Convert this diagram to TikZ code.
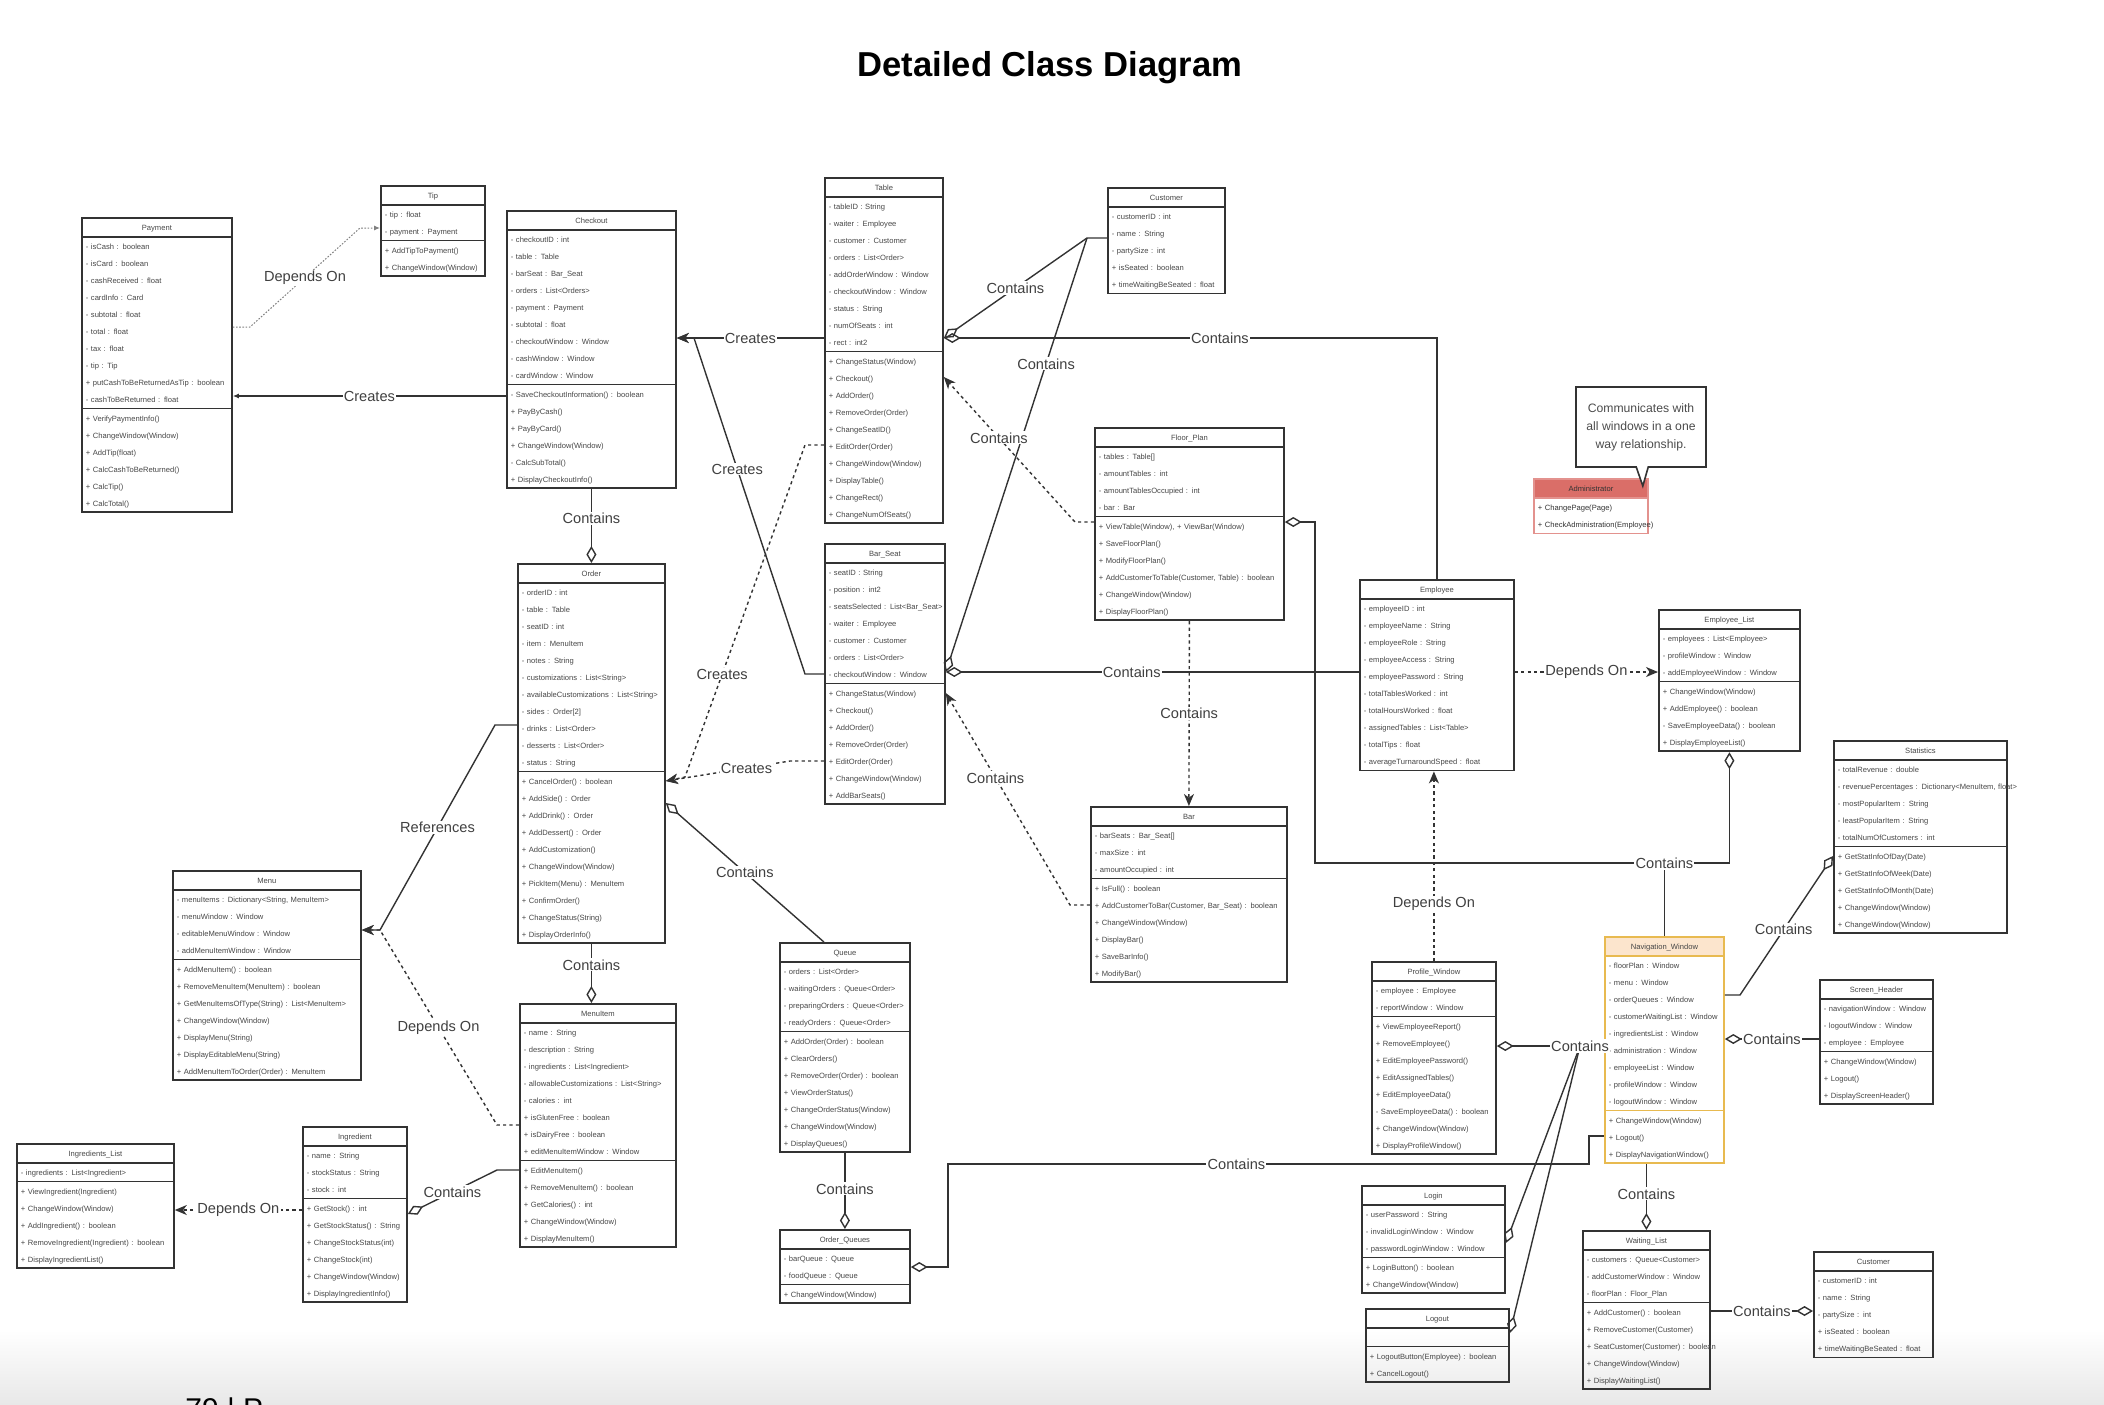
\documentclass[tikz,border=0pt]{standalone}
\usepackage{fontspec}
\setmainfont{Liberation Sans}
\usetikzlibrary{arrows.meta,shapes.multipart,shapes.callouts}

\definecolor{linegray}{RGB}{51,51,51}
\definecolor{txtgray}{RGB}{70,70,70}
\definecolor{adminred}{RGB}{218,110,104}
\definecolor{navfill}{RGB}{252,229,205}
\definecolor{navline}{RGB}{232,186,80}

\newcommand\rw[1]{\mbox{\strut#1}\par}
\newcommand\ct[1]{\makebox[\linewidth]{\strut#1}\par}

\begin{document}
\begin{tikzpicture}
[x=0.5pt,y=-0.5pt,%
  cls/.style={rectangle split,rectangle split parts=3,draw=linegray,line width=0.9pt,
    anchor=north west,inner xsep=2pt,inner ysep=0pt,text=txtgray,
    font=\fontsize{3.8}{8.5}\selectfont},%
  cls2/.style={cls,rectangle split parts=2},%
  lbl/.style={fill=white,inner sep=0.6pt,text=black!75,font=\fontsize{7.3}{8}\selectfont},%
  con/.style={draw=linegray,line width=0.7pt},%
  agg/.style={con,{Diamond[open,length=8.5pt,width=5pt]}-},%
  crt/.style={con,-{Stealth[length=6pt,width=5pt,inset=1.8pt]}},%
  crs/.style={con,-{Latex[length=3pt,width=2.5pt]}},%
  dcrt/.style={crt,dash pattern=on 1.6pt off 1.6pt},%
  dep/.style={draw=gray,line width=0.5pt,dash pattern=on 0.8pt off 0.8pt,-{Latex[length=3pt,width=2.5pt]}}]
\useasboundingbox (0,0) rectangle (2104,1404);
\clip (0,0) rectangle (2104,1404);
\shade[top color=white,bottom color=black!9] (0,1330) rectangle (2104,1404);
\node[font=\fontsize{17.3}{20}\selectfont\bfseries] (title) at (1050,68) {Detailed Class Diagram};
\node[anchor=north west,inner sep=0pt,font=\fontsize{15}{18}\selectfont] (pageno) at (185,1397) {79 | P};

% classes
\node[cls,text width=71pt] (payment) at (81,217) {\ct{Payment}
  \nodepart{second}\rw{- isCash : boolean}\rw{- isCard : boolean}\rw{- cashReceived : float}\rw{- cardInfo : Card}\rw{- subtotal : float}\rw{- total : float}\rw{- tax : float}\rw{- tip : Tip}\rw{+ putCashToBeReturnedAsTip : boolean}\rw{- cashToBeReturned : float}
  \nodepart{third}\rw{+ VerifyPaymentInfo()}\rw{+ ChangeWindow(Window)}\rw{+ AddTip(float)}\rw{+ CalcCashToBeReturned()}\rw{+ CalcTip()}\rw{+ CalcTotal()}};
\node[cls,text width=48pt] (tip) at (380,185) {\ct{Tip}
  \nodepart{second}\rw{- tip : float}\rw{- payment : Payment}
  \nodepart{third}\rw{+ AddTipToPayment()}\rw{+ ChangeWindow(Window)}};
\node[cls,text width=80.5pt] (checkout) at (506,210) {\ct{Checkout}
  \nodepart{second}\rw{- checkoutID : int}\rw{- table : Table}\rw{- barSeat : Bar\_Seat}\rw{- orders : List<Orders>}\rw{- payment : Payment}\rw{- subtotal : float}\rw{- checkoutWindow : Window}\rw{- cashWindow : Window}\rw{- cardWindow : Window}
  \nodepart{third}\rw{- SaveCheckoutInformation() : boolean}\rw{+ PayByCash()}\rw{+ PayByCard()}\rw{+ ChangeWindow(Window)}\rw{- CalcSubTotal()}\rw{+ DisplayCheckoutInfo()}};
\node[cls,text width=55pt] (table) at (824,177) {\ct{Table}
  \nodepart{second}\rw{- tableID : String}\rw{- waiter : Employee}\rw{- customer : Customer}\rw{- orders : List<Order>}\rw{- addOrderWindow : Window}\rw{- checkoutWindow : Window}\rw{- status : String}\rw{- numOfSeats : int}\rw{- rect : int2}
  \nodepart{third}\rw{+ ChangeStatus(Window)}\rw{+ Checkout()}\rw{+ AddOrder()}\rw{+ RemoveOrder(Order)}\rw{+ ChangeSeatID()}\rw{+ EditOrder(Order)}\rw{+ ChangeWindow(Window)}\rw{+ DisplayTable()}\rw{+ ChangeRect()}\rw{+ ChangeNumOfSeats()}};
\node[cls2,text width=54.5pt] (customer) at (1107,187) {\ct{Customer}
  \nodepart{second}\rw{- customerID : int}\rw{- name : String}\rw{- partySize : int}\rw{+ isSeated : boolean}\rw{+ timeWaitingBeSeated : float}};
\node[cls,text width=56pt] (barseat) at (824,543) {\ct{Bar\_Seat}
  \nodepart{second}\rw{- seatID : String}\rw{- position : int2}\rw{- seatsSelected : List<Bar\_Seat>}\rw{- waiter : Employee}\rw{- customer : Customer}\rw{- orders : List<Order>}\rw{- checkoutWindow : Window}
  \nodepart{third}\rw{+ ChangeStatus(Window)}\rw{+ Checkout()}\rw{+ AddOrder()}\rw{+ RemoveOrder(Order)}\rw{+ EditOrder(Order)}\rw{+ ChangeWindow(Window)}\rw{+ AddBarSeats()}};
\node[cls,text width=90.5pt] (floorplan) at (1094,427) {\ct{Floor\_Plan}
  \nodepart{second}\rw{- tables : Table[]}\rw{- amountTables : int}\rw{- amountTablesOccupied : int}\rw{- bar : Bar}
  \nodepart{third}\rw{+ ViewTable(Window), + ViewBar(Window)}\rw{+ SaveFloorPlan()}\rw{+ ModifyFloorPlan()}\rw{+ AddCustomerToTable(Customer, Table) : boolean}\rw{+ ChangeWindow(Window)}\rw{+ DisplayFloorPlan()}};
\node[cls,text width=69.5pt] (order) at (517,563) {\ct{Order}
  \nodepart{second}\rw{- orderID : int}\rw{- table : Table}\rw{- seatID : int}\rw{- item : MenuItem}\rw{- notes : String}\rw{- customizations : List<String>}\rw{- availableCustomizations : List<String>}\rw{- sides : Order[2]}\rw{- drinks : List<Order>}\rw{- desserts : List<Order>}\rw{- status : String}
  \nodepart{third}\rw{+ CancelOrder() : boolean}\rw{+ AddSide() : Order}\rw{+ AddDrink() : Order}\rw{+ AddDessert() : Order}\rw{+ AddCustomization()}\rw{+ ChangeWindow(Window)}\rw{+ PickItem(Menu) : MenuItem}\rw{+ ConfirmOrder()}\rw{+ ChangeStatus(String)}\rw{+ DisplayOrderInfo()}};
\node[cls2,text width=73pt] (employee) at (1359,579) {\ct{Employee}
  \nodepart{second}\rw{- employeeID : int}\rw{- employeeName : String}\rw{- employeeRole : String}\rw{- employeeAccess : String}\rw{- employeePassword : String}\rw{- totalTablesWorked : int}\rw{- totalHoursWorked : float}\rw{- assignedTables : List<Table>}\rw{- totalTips : float}\rw{- averageTurnaroundSpeed : float}};
\node[cls,text width=66.5pt] (emplist) at (1658,609) {\ct{Employee\_List}
  \nodepart{second}\rw{- employees : List<Employee>}\rw{- profileWindow : Window}\rw{- addEmployeeWindow : Window}
  \nodepart{third}\rw{+ ChangeWindow(Window)}\rw{+ AddEmployee() : boolean}\rw{- SaveEmployeeData() : boolean}\rw{+ DisplayEmployeeList()}};
\node[cls2,text width=53pt,draw=adminred!75,rectangle split part fill={adminred,white},text=black!80] (admin) at (1533,478) {\ct{Administrator}
  \nodepart{second}\rw{+ ChangePage(Page)}\rw{+ CheckAdministration(Employee)}};
\node[cls,text width=94pt] (bar) at (1090,806) {\ct{Bar}
  \nodepart{second}\rw{- barSeats : Bar\_Seat[]}\rw{- maxSize : int}\rw{- amountOccupied : int}
  \nodepart{third}\rw{+ IsFull() : boolean}\rw{+ AddCustomerToBar(Customer, Bar\_Seat) : boolean}\rw{+ ChangeWindow(Window)}\rw{+ DisplayBar()}\rw{+ SaveBarInfo()}\rw{+ ModifyBar()}};
\node[cls,text width=82.5pt] (statistics) at (1833,740) {\ct{Statistics}
  \nodepart{second}\rw{- totalRevenue : double}\rw{- revenuePercentages : Dictionary<MenuItem, float>}\rw{- mostPopularItem : String}\rw{- leastPopularItem : String}\rw{- totalNumOfCustomers : int}
  \nodepart{third}\rw{+ GetStatInfoOfDay(Date)}\rw{+ GetStatInfoOfWeek(Date)}\rw{+ GetStatInfoOfMonth(Date)}\rw{+ ChangeWindow(Window)}\rw{+ ChangeWindow(Window)}};
\node[cls,text width=90pt] (menu) at (172,870) {\ct{Menu}
  \nodepart{second}\rw{- menuItems : Dictionary<String, MenuItem>}\rw{- menuWindow : Window}\rw{- editableMenuWindow : Window}\rw{- addMenuItemWindow : Window}
  \nodepart{third}\rw{+ AddMenuItem() : boolean}\rw{+ RemoveMenuItem(MenuItem) : boolean}\rw{+ GetMenuItemsOfType(String) : List<MenuItem>}\rw{+ ChangeWindow(Window)}\rw{+ DisplayMenu(String)}\rw{+ DisplayEditableMenu(String)}\rw{+ AddMenuItemToOrder(Order) : MenuItem}};
\node[cls,text width=61pt] (queue) at (779,942) {\ct{Queue}
  \nodepart{second}\rw{- orders : List<Order>}\rw{- waitingOrders : Queue<Order>}\rw{- preparingOrders : Queue<Order>}\rw{- readyOrders : Queue<Order>}
  \nodepart{third}\rw{+ AddOrder(Order) : boolean}\rw{+ ClearOrders()}\rw{+ RemoveOrder(Order) : boolean}\rw{+ ViewOrderStatus()}\rw{+ ChangeOrderStatus(Window)}\rw{+ ChangeWindow(Window)}\rw{+ DisplayQueues()}};
\node[cls,text width=74pt] (menuitem) at (519,1003) {\ct{MenuItem}
  \nodepart{second}\rw{- name : String}\rw{- description : String}\rw{- ingredients : List<Ingredient>}\rw{- allowableCustomizations : List<String>}\rw{- calories : int}\rw{+ isGlutenFree : boolean}\rw{+ isDairyFree : boolean}\rw{+ editMenuItemWindow : Window}
  \nodepart{third}\rw{+ EditMenuItem()}\rw{+ RemoveMenuItem() : boolean}\rw{+ GetCalories() : int}\rw{+ ChangeWindow(Window)}\rw{+ DisplayMenuItem()}};
\node[cls,text width=58pt] (profile) at (1371,961) {\ct{Profile\_Window}
  \nodepart{second}\rw{- employee : Employee}\rw{- reportWindow : Window}
  \nodepart{third}\rw{+ ViewEmployeeReport()}\rw{+ RemoveEmployee()}\rw{+ EditEmployeePassword()}\rw{+ EditAssignedTables()}\rw{+ EditEmployeeData()}\rw{- SaveEmployeeData() : boolean}\rw{+ ChangeWindow(Window)}\rw{+ DisplayProfileWindow()}};
\node[cls,text width=55.5pt,draw=navline,rectangle split part fill={navfill,white,white}] (nav) at (1604,936) {\ct{Navigation\_Window}
  \nodepart{second}\rw{- floorPlan : Window}\rw{- menu : Window}\rw{- orderQueues : Window}\rw{- customerWaitingList : Window}\rw{- ingredientsList : Window}\rw{- administration : Window}\rw{- employeeList : Window}\rw{- profileWindow : Window}\rw{- logoutWindow : Window}
  \nodepart{third}\rw{+ ChangeWindow(Window)}\rw{+ Logout()}\rw{+ DisplayNavigationWindow()}};
\node[cls,text width=52.5pt] (screenheader) at (1819,979) {\ct{Screen\_Header}
  \nodepart{second}\rw{- navigationWindow : Window}\rw{- logoutWindow : Window}\rw{- employee : Employee}
  \nodepart{third}\rw{+ ChangeWindow(Window)}\rw{+ Logout()}\rw{+ DisplayScreenHeader()}};
\node[cls,text width=74.5pt] (ingrlist) at (16,1143) {\ct{Ingredients\_List}
  \nodepart{second}\rw{- ingredients : List<Ingredient>}
  \nodepart{third}\rw{+ ViewIngredient(Ingredient)}\rw{+ ChangeWindow(Window)}\rw{+ AddIngredient() : boolean}\rw{+ RemoveIngredient(Ingredient) : boolean}\rw{+ DisplayIngredientList()}};
\node[cls,text width=48pt] (ingredient) at (302,1126) {\ct{Ingredient}
  \nodepart{second}\rw{- name : String}\rw{- stockStatus : String}\rw{- stock : int}
  \nodepart{third}\rw{+ GetStock() : int}\rw{+ GetStockStatus() : String}\rw{+ ChangeStockStatus(int)}\rw{+ ChangeStock(int)}\rw{+ ChangeWindow(Window)}\rw{+ DisplayIngredientInfo()}};
\node[cls,text width=61pt] (orderqueues) at (779,1229) {\ct{Order\_Queues}
  \nodepart{second}\rw{- barQueue : Queue}\rw{- foodQueue : Queue}
  \nodepart{third}\rw{+ ChangeWindow(Window)}};
\node[cls,text width=67.5pt] (login) at (1361,1185) {\ct{Login}
  \nodepart{second}\rw{- userPassword : String}\rw{- invalidLoginWindow : Window}\rw{- passwordLoginWindow : Window}
  \nodepart{third}\rw{+ LoginButton() : boolean}\rw{+ ChangeWindow(Window)}};
\node[cls,text width=67.5pt] (logout) at (1365,1308) {\ct{Logout}
  \nodepart{second}\rw{}
  \nodepart{third}\rw{+ LogoutButton(Employee) : boolean}\rw{+ CancelLogout()}};
\node[cls,text width=59.5pt] (waitlist) at (1582,1230) {\ct{Waiting\_List}
  \nodepart{second}\rw{- customers : Queue<Customer>}\rw{- addCustomerWindow : Window}\rw{- floorPlan : Floor\_Plan}
  \nodepart{third}\rw{+ AddCustomer() : boolean}\rw{+ RemoveCustomer(Customer)}\rw{+ SeatCustomer(Customer) : boolean}\rw{+ ChangeWindow(Window)}\rw{+ DisplayWaitingList()}};
\node[cls2,text width=55.5pt] (customer2) at (1813,1251) {\ct{Customer}
  \nodepart{second}\rw{- customerID : int}\rw{- name : String}\rw{- partySize : int}\rw{+ isSeated : boolean}\rw{+ timeWaitingBeSeated : float}};

\node[rectangle callout,draw=linegray,line width=0.8pt,fill=white,align=center,
  minimum width=65pt,minimum height=40pt,text=black!70,font=\fontsize{6.1}{9}\selectfont,
  callout pointer width=6pt,callout absolute pointer={([xshift=-3pt,yshift=-4pt]admin.north east)}]
  (note) at (1641,427) {Communicates with\\all windows in a one\\way relationship.};

% connectors
\draw[dep] (payment.east |- 0,327) -- (250,327) -- node[lbl]{Depends On} (360,228) -- (tip.west |- 0,228);
\draw[crs] (checkout.west |- 0,396) -- node[lbl]{Creates} (payment.east |- 0,396);
\draw[crt] (table.west |- 0,338) -- node[lbl]{Creates} (checkout.east |- 0,338);
\draw[crt] (barseat.west |- 0,674) -- (805,674) -- node[lbl,pos=0.61]{Creates} (694,338) -- (checkout.east |- 0,338);
\draw[dcrt] (table.west |- 0,445) -- (805,445) -- node[lbl,pos=0.69]{Creates} (685,777) -- (order.east |- 0,781);
\draw[dcrt] (barseat.west |- 0,761) -- (790,761) -- node[lbl,pos=0.35]{Creates} (order.east |- 0,781);

\draw[agg] (table.east |- 0,338) -- node[lbl]{Contains} (1087,238) -- (customer.west |- 0,238);
\draw[agg] (table.east |- 0,338) -| node[lbl,pos=0.28]{Contains} (employee.north);
\draw[agg] (barseat.east |- 0,672) -- node[lbl,pos=0.71]{Contains} (1087,238);
\draw[agg] (barseat.east |- 0,672) -- node[lbl,pos=0.45]{Contains} (employee.west |- 0,672);

\draw[dcrt] (floorplan.west |- 0,522) -- (1075,522) -- node[lbl,pos=0.58]{Contains} (table.east |- 0,377);
\draw[dcrt] (floorplan.south) -- node[lbl]{Contains} (bar.north);
\draw[dcrt] (bar.west |- 0,905) -- (1070,905) -- node[lbl,pos=0.6]{Contains} (barseat.east |- 0,693);
\draw[agg] (floorplan.east |- 0,522) -- (1315,522) |- (nav.north |- 0,863) -- (nav.north);
\draw[agg] (emplist.south) |- (nav.north |- 0,863) node[lbl]{Contains};

\draw[dcrt] (employee.east |- 0,672) -- node[lbl]{Depends On} (emplist.west |- 0,672);
\draw[dcrt] (profile.north) -- node[lbl,pos=0.3]{Depends On} (profile.north |- employee.south);

\draw[agg] (order.north) -- node[lbl,pos=0.6]{Contains} (checkout.south);
\draw[crt] (order.west |- 0,725) -- (495,725) -- node[lbl]{References} (380,930) -- (menu.east |- 0,930);
\draw[dcrt] (menuitem.west |- 0,1125) -- (497,1125) -- node[lbl]{Depends On} (380,930) -- (menu.east |- 0,930);
\draw[agg] (order.south |- menuitem.north) -- node[lbl,pos=0.65]{Contains} (order.south);
\draw[agg] (order.east |- 0,803) -- node[lbl]{Contains} ([xshift=-10.5pt]queue.north);
\draw[agg] (orderqueues.north) -- node[lbl,pos=0.53]{Contains} (queue.south);
\draw[agg] (orderqueues.east |- 0,1267) -- (948,1267) |- node[lbl,pos=0.725]{Contains} (1589,1164) |- (nav.west |- 0,1136);

\draw[agg] (ingredient.east |- 0,1214) -- node[lbl]{Contains} (497,1170) -- (menuitem.west |- 0,1170);
\draw[dcrt] (ingredient.west |- 0,1210) -- node[lbl]{Depends On} (ingrlist.east |- 0,1210);

\draw[agg] (statistics.west |- 0,856) -- node[lbl,pos=0.53]{Contains} (1740,995) -- (nav.east |- 0,995);
\draw[agg] (nav.east |- 0,1039) -- node[lbl]{Contains} (screenheader.west |- 0,1039);
\draw[agg] (waitlist.north) -- node[lbl,pos=0.55]{Contains} (waitlist.north |- nav.south);
\draw[agg] (customer2.west |- 0,1311) -- node[lbl]{Contains} (waitlist.east |- 0,1311);
\coordinate (navjoin) at (1580,1046);
\draw[agg] (profile.east |- 0,1046) -- (nav.west |- 0,1046);
\draw[agg] (login.east |- 0,1243) -- (navjoin);
\draw[agg] (logout.east |- 0,1333) -- (navjoin);
\node[lbl] (navlbl) at (navjoin) {Contains};
\end{tikzpicture}
\end{document}
